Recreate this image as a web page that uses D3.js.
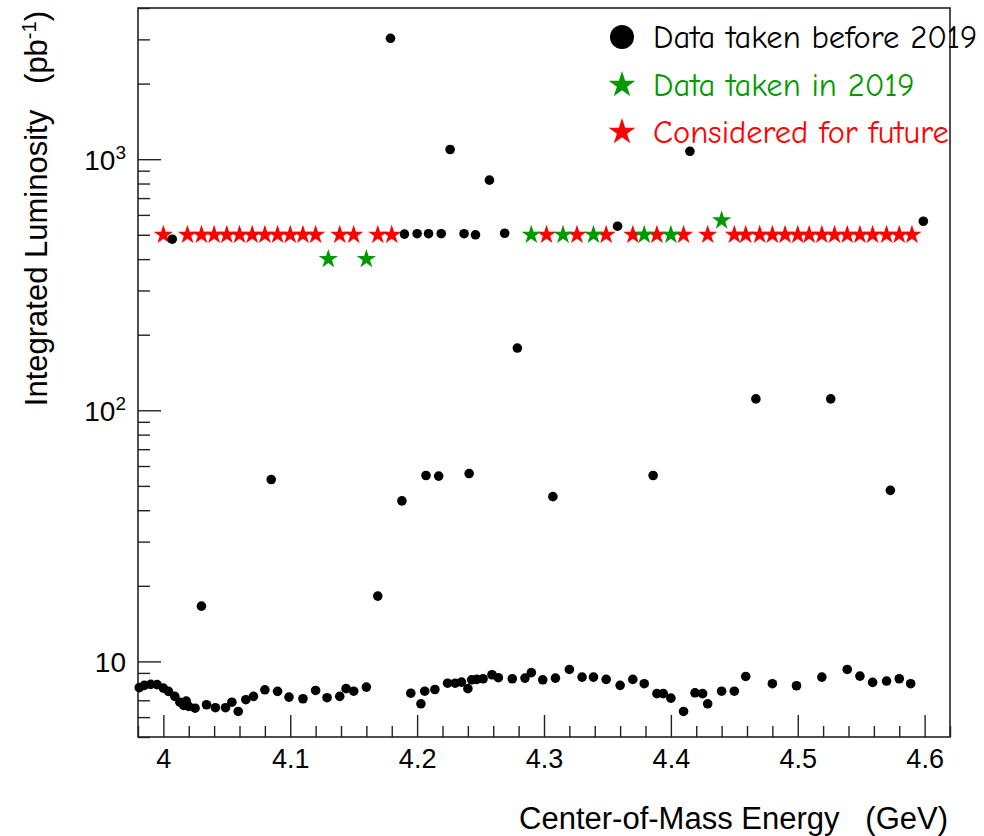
<!doctype html>
<html lang="en">
<head>
<meta charset="utf-8">
<title>Integrated luminosity vs energy</title>
<style>
body { margin: 0; background: #fff; font-family: "Liberation Sans", Arial, Helvetica, sans-serif; }
svg text { white-space: pre; }
</style>
</head>
<body>
<svg id="chart" width="984" height="836"></svg>
<script src="https://cdnjs.cloudflare.com/ajax/libs/d3/7.8.5/d3.min.js"></script>
<script>
// data taken before 2019 (black dots)
var beforeE = [3.981, 3.985, 3.990, 3.995, 4.000, 4.004, 4.007, 4.009, 4.013, 4.016,
               4.018, 4.020, 4.025, 4.030, 4.034, 4.041, 4.049, 4.054, 4.059, 4.065,
               4.071, 4.080, 4.085, 4.090, 4.099, 4.110, 4.120, 4.129, 4.139, 4.144,
               4.150, 4.160, 4.169, 4.179, 4.188, 4.190, 4.195, 4.200, 4.203, 4.206,
               4.207, 4.209, 4.214, 4.217, 4.219, 4.224, 4.226, 4.230, 4.235, 4.237,
               4.240, 4.241, 4.243, 4.246, 4.247, 4.252, 4.257, 4.259, 4.264, 4.269,
               4.275, 4.279, 4.285, 4.290, 4.299, 4.307, 4.309, 4.320, 4.330, 4.339,
               4.349, 4.358, 4.360, 4.370, 4.379, 4.386, 4.389, 4.394, 4.400, 4.410,
               4.415, 4.419, 4.425, 4.429, 4.440, 4.450, 4.459, 4.467, 4.480, 4.499,
               4.519, 4.526, 4.539, 4.549, 4.559, 4.570, 4.573, 4.580, 4.589, 4.599];
var beforeL = [7.86, 8.03, 8.10, 8.08, 7.83, 7.60, 480, 7.26, 6.88, 6.68,
               6.95, 6.62, 6.51, 16.6, 6.72, 6.54, 6.54, 6.88, 6.32, 7.04,
               7.26, 7.71, 53, 7.60, 7.21, 7.10, 7.66, 7.17, 7.26, 7.79,
               7.61, 7.90, 18.2, 3030, 43.6, 503, 7.47, 505, 6.78, 7.61,
               55, 505, 7.73, 54.7, 505, 8.19, 1093, 8.19, 8.27, 505,
               7.79, 56, 8.45, 500, 8.48, 8.53, 825, 8.85, 8.61, 507,
               8.53, 177, 8.58, 9.02, 8.45, 45.3, 8.58, 9.29, 8.66, 8.66,
               8.48, 541, 8.03, 8.48, 8.15, 55, 7.44, 7.44, 7.14, 6.32,
               1075, 7.50, 7.44, 6.78, 7.61, 7.61, 8.71, 111, 8.15, 8.00,
               8.66, 111, 9.29, 8.74, 8.25, 8.35, 48, 8.53, 8.15, 566];

// data taken in 2019 (green stars)
var in2019E = [4.130, 4.160, 4.290, 4.315, 4.339, 4.379, 4.400, 4.440];
var in2019L = [400, 400, 500, 500, 500, 500, 500, 570];

// considered for future (red stars)
var futureE = [4.000, 4.019, 4.030, 4.040, 4.050, 4.060, 4.070, 4.080, 4.090, 4.100,
               4.110, 4.120, 4.139, 4.150, 4.169, 4.180, 4.302, 4.326, 4.349, 4.370,
               4.389, 4.410, 4.429, 4.450, 4.459, 4.470, 4.480, 4.490, 4.500, 4.509,
               4.519, 4.529, 4.539, 4.549, 4.559, 4.570, 4.580, 4.590];
var futureL = [500, 500, 500, 500, 500, 500, 500, 500, 500, 500,
               500, 500, 500, 500, 500, 500, 500, 500, 500, 500,
               500, 500, 500, 500, 500, 500, 500, 500, 500, 500,
               500, 500, 500, 500, 500, 500, 500, 500];

var xTickValues = [4.0, 4.1, 4.2, 4.3, 4.4, 4.5, 4.6];
var xTickLabels = ["4", "4.1", "4.2", "4.3", "4.4", "4.5", "4.6"];
var yTickValues = [10, 100, 1000];
var yTickBase = ["10", "10", "10"];
var yTickSup = ["", "2", "3"];

var legendLabels = ["Data taken before 2019", "Data taken in 2019", "Considered for future"];
var legendColors = ["#000000", "#009a00", "#ff0000"];

var svg = d3.select("#chart");
var padL = 138, padR = 950, padT = 8, padB = 737;

var x = d3.scaleLinear().domain([3.98, 4.62]).range([padL, padR]);
var y = d3.scaleLog().domain([5, 4000]).range([padB, padT]);

// ---- ticks (inward, ROOT style)
var yMinor = y.ticks().filter(function(v) { return yTickValues.indexOf(v) < 0; });
svg.append("g")
    .attr("transform", "translate(" + padL + ",0)")
    .call(d3.axisLeft(y).tickValues(yMinor).tickSize(-12).tickFormat(""))
    .call(function(g) { g.select(".domain").remove(); })
    .selectAll("line").attr("stroke", "#222").attr("stroke-width", 1.4);
svg.append("g")
    .attr("transform", "translate(" + padL + ",0)")
    .call(d3.axisLeft(y).tickValues(yTickValues).tickSize(-23).tickFormat(""))
    .call(function(g) { g.select(".domain").remove(); })
    .selectAll("line").attr("stroke", "#222").attr("stroke-width", 1.4);

var xMinor = d3.ticks(3.98, 4.62, 32).filter(function(v) {
    return xTickValues.every(function(t) { return Math.abs(t - v) > 1e-6; });
});
svg.append("g")
    .attr("transform", "translate(0," + padB + ")")
    .call(d3.axisBottom(x).tickValues(xMinor).tickSize(-11).tickFormat(""))
    .call(function(g) { g.select(".domain").remove(); })
    .selectAll("line").attr("stroke", "#222").attr("stroke-width", 1.4);
svg.append("g")
    .attr("transform", "translate(0," + padB + ")")
    .call(d3.axisBottom(x).tickValues(xTickValues).tickSize(-22).tickPadding(12)
        .tickFormat(function(d, i) { return xTickLabels[i]; }))
    .call(function(g) { g.select(".domain").remove(); })
    .call(function(g) {
        g.selectAll("line").attr("stroke", "#222").attr("stroke-width", 1.4);
        g.selectAll("text").attr("fill", "#000").attr("font-size", 27)
            .attr("font-family", "'Liberation Sans', Arial, sans-serif");
    });

// y tick labels with superscripts
var yl = svg.append("g").selectAll("text").data(yTickValues).enter().append("text")
    .attr("x", 126)
    .attr("y", function(d) { return y(d) + 11; })
    .attr("text-anchor", "end")
    .attr("font-size", 28);
yl.append("tspan").text(function(d, i) { return yTickBase[i]; });
yl.append("tspan").attr("dy", -11).attr("font-size", 19)
    .text(function(d, i) { return yTickSup[i]; });

// frame
svg.append("rect")
    .attr("x", padL).attr("y", padT)
    .attr("width", padR - padL).attr("height", padB - padT)
    .attr("fill", "none").attr("stroke", "#222").attr("stroke-width", 1.6);

// ---- markers
var star = d3.symbol().type(d3.symbolStar);
var plot = svg.append("g");

plot.selectAll(".future").data(futureE).enter().append("path")
    .attr("class", "future")
    .attr("d", star.size(115)())
    .attr("transform", function(d, i) { return "translate(" + x(d) + "," + y(futureL[i]) + ")"; })
    .attr("fill", legendColors[2]);

plot.selectAll(".y2019").data(in2019E).enter().append("path")
    .attr("class", "y2019")
    .attr("d", star.size(115)())
    .attr("transform", function(d, i) { return "translate(" + x(d) + "," + y(in2019L[i]) + ")"; })
    .attr("fill", legendColors[1]);

plot.selectAll(".before").data(beforeE).enter().append("circle")
    .attr("class", "before")
    .attr("cx", function(d) { return x(d); })
    .attr("cy", function(d, i) { return y(beforeL[i]); })
    .attr("r", 4.8)
    .attr("fill", legendColors[0]);

// ---- axis titles
svg.append("text")
    .attr("x", 948).attr("y", 829)
    .attr("text-anchor", "end")
    .attr("font-size", 31)
    .text("Center-of-Mass Energy   (GeV)");

var yt = svg.append("text")
    .attr("transform", "translate(47,11) rotate(-90)")
    .attr("text-anchor", "end")
    .attr("font-size", 31);
yt.append("tspan").text("Integrated Luminosity   (pb");
yt.append("tspan").attr("dy", -11).attr("font-size", 20).text("-1");
yt.append("tspan").attr("dy", 11).text(")");

// ---- legend
var leg = svg.append("g").selectAll("g").data(legendLabels).enter().append("g")
    .attr("transform", function(d, i) { return "translate(622," + [37, 85, 132][i] + ")"; });
leg.each(function(d, i) {
    var g = d3.select(this);
    if (i === 0) {
        g.append("circle").attr("r", 12).attr("fill", legendColors[0]);
    } else {
        g.append("path").attr("d", star.size(220)()).attr("fill", legendColors[i]);
    }
    g.append("text")
        .attr("x", 31).attr("y", 11)
        .attr("font-family", "'Comic Sans MS', 'Comic Neue', 'DejaVu Sans', sans-serif")
        .attr("font-size", 32.5)
        .attr("fill", legendColors[i])
        .text(d);
});
</script>
</body>
</html>
